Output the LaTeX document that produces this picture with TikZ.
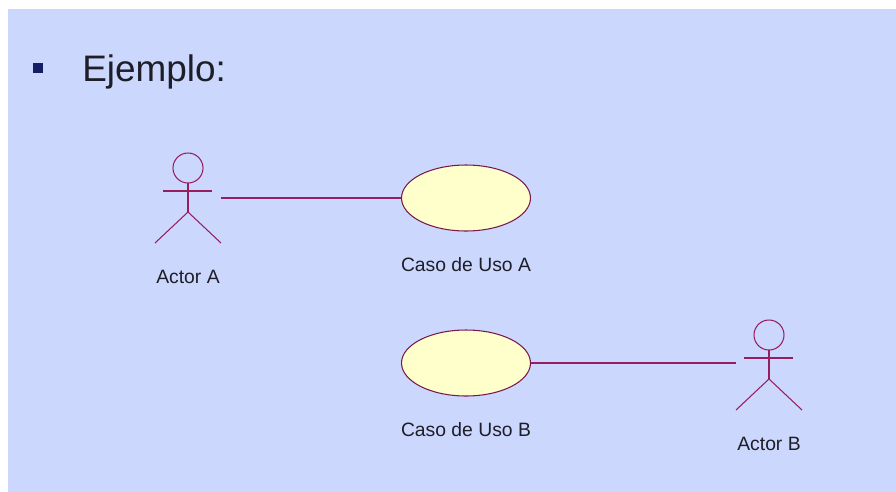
\documentclass[tikz,border=0pt]{standalone}
\usepackage{fontspec}
\setmainfont{Liberation Sans}
\usetikzlibrary{shapes, positioning}
\definecolor{slidebg}{RGB}{204,215,253}
\definecolor{umlline}{RGB}{150,30,95}
\definecolor{casefill}{RGB}{255,255,204}
\definecolor{bulletblue}{RGB}{20,30,100}
\definecolor{txt}{RGB}{30,30,40}

% figura de actor, relativa al centro del nodo
\newcommand{\stickman}[1]{
    \begin{scope}[shift={(#1.center)}, umlline, line width=0.6pt]
        \draw (0,-30) circle[radius=15];
        \draw (0,-15) -- (0,14);
        \draw (-25,-7) -- (24,-7);
        \draw (-33,45) -- (0,14) -- (33,45);
    \end{scope}
}

\begin{document}
\begin{tikzpicture}[x=0.02cm, y=-0.02cm,
    actor/.style={inner sep=0pt, minimum width=1.32cm, minimum height=1.82cm},
    usecase/.style={ellipse, draw=umlline!80!black, fill=casefill, line width=0.6pt,
        inner sep=0pt, minimum width=2.58cm, minimum height=1.32cm},
    lbl/.style={inner sep=0pt, text=txt, font=\fontsize{11}{13}\selectfont},
    assoc/.style={umlline, line width=0.6pt}]
    % fondo
    \useasboundingbox (0,0) rectangle (896,491);
    \fill[white] (0,0) rectangle (896,491);
    \fill[slidebg] (8,9) rectangle (905,500);

    % titulo con vineta
    \node[fill=bulletblue, inner sep=0pt, minimum size=0.19cm] (bullet) at (38,68) {};
    \node[anchor=base west, inner sep=0pt, text=txt, font=\fontsize{21}{25}\selectfont] (title) at (82,81) {Ejemplo:};

    % actores
    \node[actor] (actA) at (188,198) {};
    \stickman{actA}
    \node[lbl, below=0.52cm of actA] (lblA) {Actor A};

    \node[actor] (actB) at (769,365) {};
    \stickman{actB}
    \node[lbl, below=0.52cm of actB] (lblB) {Actor B};

    % casos de uso
    \node[usecase] (ucA) at (466,198) {};
    \node[lbl, below=0.52cm of ucA] (lblUcA) {Caso de Uso A};

    \node[usecase] (ucB) at (466,363) {};
    \node[lbl, below=0.52cm of ucB] (lblUcB) {Caso de Uso B};

    % asociaciones
    \draw[assoc] (actA.east) -- (actA.east -| ucA.west);
    \draw[assoc] (ucB.east) -- (ucB.east -| actB.west);
\end{tikzpicture}
\end{document}
